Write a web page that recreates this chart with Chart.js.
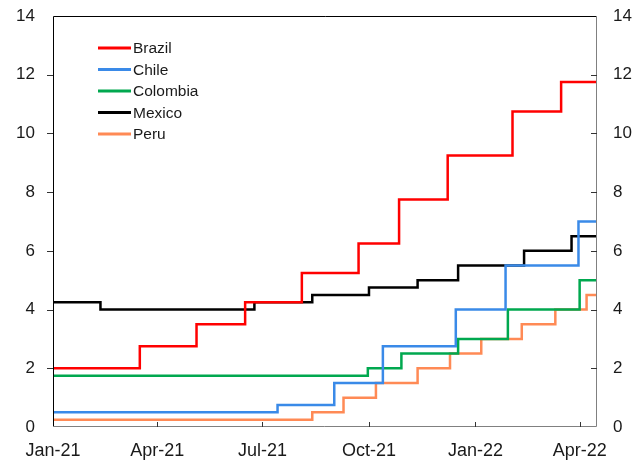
<!DOCTYPE html>
<html>
<head>
<meta charset="utf-8">
<script src="https://cdn.jsdelivr.net/npm/chart.js@4/dist/chart.umd.min.js"></script>
<style>
  html, body { margin: 0; padding: 0; background: #fff; }
  #wrap { width: 644px; height: 461px; }
</style>
</head>
<body>
<div id="wrap"><canvas id="ratesChart"></canvas></div>
<script>
// days counted from 1 Jan 2021; each point is the day a new rate starts
const endDay = 470;

const brazilDays = [0, 75, 124, 166, 215, 264, 299, 341, 397, 439, endDay];
const brazilRates = [2.00, 2.75, 3.50, 4.25, 5.25, 6.25, 7.75, 9.25, 10.75, 11.75, 11.75];

const chileDays = [0, 194, 243, 285, 348, 391, 454, endDay];
const chileRates = [0.50, 0.75, 1.50, 2.75, 4.00, 5.50, 7.00, 7.00];

const colombiaDays = [0, 272, 301, 350, 393, 455, endDay];
const colombiaRates = [1.75, 2.00, 2.50, 3.00, 4.00, 5.00, 5.00];

const mexicoDays = [0, 41, 174, 224, 273, 315, 350, 407, 448, endDay];
const mexicoRates = [4.25, 4.00, 4.25, 4.50, 4.75, 5.00, 5.50, 6.00, 6.50, 6.50];

const peruDays = [0, 224, 251, 279, 315, 343, 370, 405, 434, 461, endDay];
const peruRates = [0.25, 0.50, 1.00, 1.50, 2.00, 2.50, 3.00, 3.50, 4.00, 4.50, 4.50];

const xTickDays = [0, 90, 181, 273, 365, 455];
const xTickLabels = ['Jan-21', 'Apr-21', 'Jul-21', 'Oct-21', 'Jan-22', 'Apr-22'];

const toPoints = (days, rates) => days.map((d, i) => ({ x: d, y: rates[i] }));

function series(label, days, rates, color) {
    return {
        label: label,
        data: toPoints(days, rates),
        borderColor: color,
        backgroundColor: color,
        borderWidth: 2.5,
        pointRadius: 0,
        stepped: true,
        fill: false
    };
}

// legend drawn inside the plot, plus frame and tick marks
const framePlugin = {
    id: 'frame',
    afterDraw(chart) {
        const ctx = chart.ctx;
        const a = chart.chartArea;
        const yl = chart.scales.y, yr = chart.scales.y2, x = chart.scales.x;
        ctx.save();
        ctx.lineWidth = 1;
        ctx.strokeStyle = '#000';
        ctx.beginPath();
        ctx.moveTo(a.left + 0.5, a.bottom);
        ctx.lineTo(a.left + 0.5, a.top + 0.5);
        ctx.lineTo(a.right, a.top + 0.5);
        ctx.stroke();
        ctx.strokeStyle = '#808080';
        ctx.beginPath();
        ctx.moveTo(a.right - 0.5, a.top);
        ctx.lineTo(a.right - 0.5, a.bottom - 0.5);
        ctx.lineTo(a.left, a.bottom - 0.5);
        ctx.stroke();

        ctx.strokeStyle = '#333';
        ctx.beginPath();
        yl.ticks.forEach(t => {
            const py = Math.round(yl.getPixelForValue(t.value)) + 0.5;
            if (t.value === 0 || t.value === 14) return;
            ctx.moveTo(a.left - 6, py);
            ctx.lineTo(a.left, py);
        });
        yr.ticks.forEach(t => {
            const py = Math.round(yr.getPixelForValue(t.value)) + 0.5;
            if (t.value === 0 || t.value === 14) return;
            ctx.moveTo(a.right - 6, py);
            ctx.lineTo(a.right, py);
        });
        xTickDays.forEach(d => {
            if (d === 0) return;
            const px = Math.round(x.getPixelForValue(d)) + 0.5;
            ctx.moveTo(px, a.bottom);
            ctx.lineTo(px, a.bottom - 5);
        });
        ctx.stroke();

        // legend
        ctx.font = '15.5px "Liberation Sans", Arial, sans-serif';
        ctx.textBaseline = 'middle';
        ctx.textAlign = 'left';
        chart.data.datasets.forEach((ds, i) => {
            const ly = 48 + i * 21.5;
            ctx.strokeStyle = ds.borderColor;
            ctx.lineWidth = 3;
            ctx.beginPath();
            ctx.moveTo(98, ly);
            ctx.lineTo(131, ly);
            ctx.stroke();
            ctx.fillStyle = '#1a1a1a';
            ctx.fillText(ds.label, 133, ly + 1);
        });
        ctx.restore();
    }
};

const ctx = document.getElementById('ratesChart').getContext('2d');
const tickFont = { family: '"Liberation Sans", Arial, sans-serif', size: 17 };

new Chart(ctx, {
    type: 'line',
    data: {
        datasets: [
            series('Brazil', brazilDays, brazilRates, '#ff0000'),
            series('Chile', chileDays, chileRates, '#3a8ae8'),
            series('Colombia', colombiaDays, colombiaRates, '#00a84f'),
            series('Mexico', mexicoDays, mexicoRates, '#000000'),
            series('Peru', peruDays, peruRates, '#ff8a55')
        ]
    },
    options: {
        responsive: true,
        maintainAspectRatio: false,
        animation: false,
        layout: { padding: { top: 16, left: 0, right: 0, bottom: 0 } },
        plugins: {
            legend: { display: false },
            tooltip: { enabled: false }
        },
        scales: {
            x: {
                type: 'linear',
                min: 0,
                max: endDay,
                grid: { display: false },
                border: { display: false },
                afterBuildTicks: scale => {
                    scale.ticks = xTickDays.map(v => ({ value: v }));
                },
                afterFit: scale => {
                    scale.height = 34;
                    scale.paddingLeft = 0;
                    scale.paddingRight = 0;
                },
                ticks: {
                    autoSkip: false,
                    maxRotation: 0,
                    padding: 5,
                    color: '#1a1a1a',
                    font: { family: tickFont.family, size: 18 },
                    callback: value => xTickLabels[xTickDays.indexOf(value)]
                }
            },
            y: {
                position: 'left',
                min: 0,
                max: 14,
                grid: { display: false },
                border: { display: false },
                afterFit: scale => {
                    scale.width = 53;
                    scale.paddingTop = 0;
                    scale.paddingBottom = 0;
                },
                ticks: {
                    stepSize: 2,
                    padding: 10,
                    color: '#1a1a1a',
                    font: tickFont
                }
            },
            y2: {
                position: 'right',
                min: 0,
                max: 14,
                grid: { display: false },
                border: { display: false },
                afterFit: scale => {
                    scale.width = 47;
                    scale.paddingTop = 0;
                    scale.paddingBottom = 0;
                },
                ticks: {
                    stepSize: 2,
                    padding: 8,
                    color: '#1a1a1a',
                    font: tickFont
                }
            }
        }
    },
    plugins: [framePlugin]
});
</script>
</body>
</html>
